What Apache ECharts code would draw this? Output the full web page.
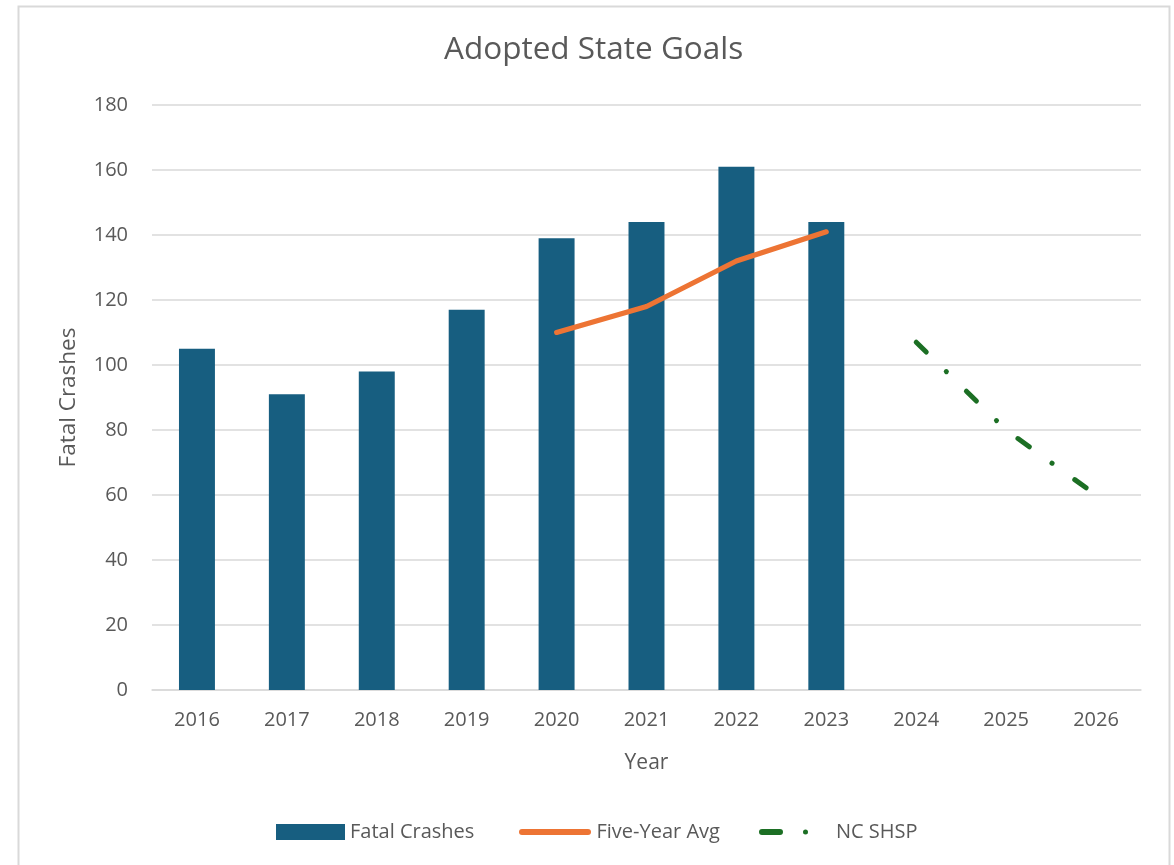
<!DOCTYPE html>
<html>
<head>
<meta charset="utf-8">
<script src="https://cdn.jsdelivr.net/npm/echarts@6/dist/echarts.min.js"></script>
<style>
  html, body { margin: 0; padding: 0; background: #fff; }
  #chart { width: 1174px; height: 865px; }
</style>
</head>
<body>
<div id="chart"></div>
<script>
// chart data
var years = ['2016', '2017', '2018', '2019', '2020', '2021', '2022', '2023', '2024', '2025', '2026'];
var fatalCrashes = [105, 91, 98, 117, 139, 144, 161, 144, null, null, null];
var fiveYearAvg = [null, null, null, null, 110, 118, 132, 141, null, null, null];
var ncShsp = [null, null, null, null, null, null, null, null, 107, 80, 60];

var textColor = '#595959';
var gridColor = '#d9d9d9';
var barColor = '#175e80';
var avgColor = '#ed7434';
var goalColor = '#1c6f24';
var font = 'Open Sans';

// legend icons (rounded dash, dash + dot)
var capsuleIcon = 'path://M3,0 H69 A3,3 0 0 1 69,6 H3 A3,3 0 0 1 3,0 Z';
var dashDotIcon = 'path://M3,0 H21 A3,3 0 0 1 21,6 H3 A3,3 0 0 1 3,0 Z M44,3 A2.5,2.5 0 1 1 49,3 A2.5,2.5 0 1 1 44,3 Z';

var legendText = { color: textColor, fontSize: 20, fontFamily: font };

var chart = echarts.init(document.getElementById('chart'));

var options = {
  animation: false,
  backgroundColor: '#fff',
  textStyle: { fontFamily: font },
  graphic: [
    {
      type: 'rect',
      shape: { x: 18.5, y: 6.5, width: 1151, height: 900 },
      style: { fill: 'none', stroke: gridColor, lineWidth: 2 },
      silent: true
    }
  ],
  title: {
    text: 'Adopted State Goals',
    left: 439,
    top: 29,
    textStyle: {
      color: textColor,
      fontSize: 31.5,
      fontWeight: 'normal',
      fontFamily: font
    }
  },
  legend: [
    {
      left: 271,
      top: 817,
      itemWidth: 69,
      itemHeight: 16,
      textStyle: legendText,
      data: [{ name: 'Fatal Crashes', icon: 'rect', itemStyle: { color: barColor } }]
    },
    {
      left: 514,
      top: 817,
      itemWidth: 73,
      itemHeight: 6,
      textStyle: legendText,
      data: [{ name: 'Five-Year Avg', icon: capsuleIcon, itemStyle: { color: avgColor } }]
    },
    {
      left: 754,
      top: 817,
      itemWidth: 49,
      itemHeight: 6,
      textStyle: { color: textColor, fontSize: 20, fontFamily: font, padding: [0, 0, 0, 23] },
      data: [{ name: 'NC SHSP', icon: dashDotIcon, itemStyle: { color: goalColor } }]
    }
  ],
  grid: {
    left: 152,
    right: 33,
    top: 105,
    bottom: 175
  },
  xAxis: {
    type: 'category',
    data: years,
    name: 'Year',
    nameLocation: 'middle',
    nameGap: 63,
    nameTextStyle: { color: textColor, fontSize: 21, fontFamily: font },
    axisLine: { lineStyle: { color: gridColor, width: 1.5 } },
    axisTick: { show: false },
    axisLabel: { color: textColor, fontSize: 20, margin: 20, fontFamily: font }
  },
  yAxis: {
    type: 'value',
    min: 0,
    max: 180,
    interval: 20,
    name: 'Fatal Crashes',
    nameLocation: 'middle',
    nameGap: 72,
    nameTextStyle: { color: textColor, fontSize: 22.5, fontFamily: font },
    axisLine: { show: false },
    axisTick: { show: false },
    axisLabel: { color: textColor, fontSize: 20, margin: 24, fontFamily: font },
    splitLine: { lineStyle: { color: gridColor, width: 1.5 } }
  },
  series: [
    {
      name: 'Fatal Crashes',
      type: 'bar',
      data: fatalCrashes,
      barWidth: '40%',
      itemStyle: { color: barColor }
    },
    {
      name: 'Five-Year Avg',
      type: 'line',
      data: fiveYearAvg,
      symbol: 'none',
      lineStyle: { color: avgColor, width: 5, cap: 'round', join: 'round' },
      itemStyle: { color: avgColor }
    },
    {
      name: 'NC SHSP',
      type: 'line',
      data: ncShsp,
      symbol: 'none',
      lineStyle: {
        color: goalColor,
        width: 5,
        cap: 'round',
        join: 'round',
        type: [14, 28, 0.1, 28]
      },
      itemStyle: { color: goalColor }
    }
  ]
};

chart.setOption(options);
</script>
</body>
</html>
